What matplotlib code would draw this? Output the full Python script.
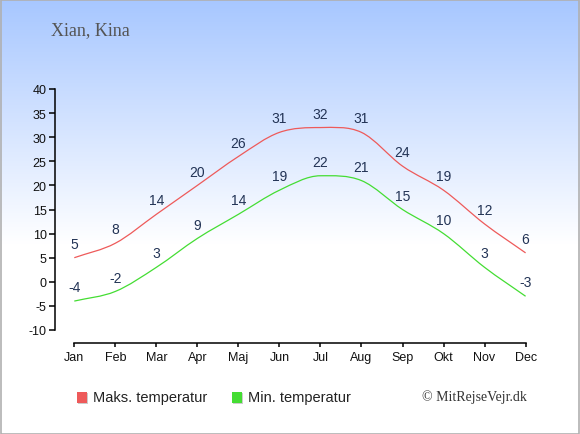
import numpy as np
import matplotlib.pyplot as plt
from matplotlib.path import Path
from matplotlib.patches import PathPatch, Rectangle

plt.rcParams['axes.unicode_minus'] = False

months = ['Jan', 'Feb', 'Mar', 'Apr', 'Maj', 'Jun', 'Jul', 'Aug', 'Sep', 'Okt', 'Nov', 'Dec']
max_temp = [5, 8, 14, 20, 26, 31, 32, 31, 24, 19, 12, 6]
min_temp = [-4, -2, 3, 9, 14, 19, 22, 21, 15, 10, 3, -3]

W, H = 580, 435
RED = '#ee5a5a'
GREEN = '#44dd33'
LABEL = '#223355'


def smooth_path(xs, ys):
    # monotone cubic (Fritsch-Carlson) as bezier segments
    xs = np.asarray(xs, float)
    ys = np.asarray(ys, float)
    d = np.diff(ys) / np.diff(xs)
    m = np.zeros_like(ys)
    m[0], m[-1] = d[0], d[-1]
    for i in range(1, len(ys) - 1):
        m[i] = 0 if d[i - 1] * d[i] <= 0 else (d[i - 1] + d[i]) / 2
    verts = [(xs[0], ys[0])]
    codes = [Path.MOVETO]
    for i in range(len(xs) - 1):
        h = xs[i + 1] - xs[i]
        verts += [(xs[i] + h / 3, ys[i] + m[i] * h / 3),
                  (xs[i + 1] - h / 3, ys[i + 1] - m[i + 1] * h / 3),
                  (xs[i + 1], ys[i + 1])]
        codes += [Path.CURVE4] * 3
    return Path(verts, codes)


fig = plt.figure(figsize=(W / 100, H / 100), dpi=100)

# background: light blue fading to white
bg = fig.add_axes([0, 0, 1, 1], zorder=-10)
rows = np.linspace(0, 1, H)[:, None]
t = np.clip(rows * H / 245, 0, 1)
top = np.array([0.655, 0.78, 1.0])
grad = top + (1 - top) * t[..., None]
grad = np.repeat(grad, 2, axis=1)
bg.imshow(grad, aspect='auto', extent=[0, 1, 0, 1], origin='upper')
bg.axis('off')

ax = fig.add_axes([55 / W, (H - 331) / H, 487 / W, 241 / H])
ax.patch.set_alpha(0)
x = np.arange(len(months))

for vals, col in [(max_temp, RED), (min_temp, GREEN)]:
    ax.add_patch(PathPatch(smooth_path(x, vals), fill=False, edgecolor=col, lw=0.9))
    for xi, v in zip(x, vals):
        ax.annotate(str(v), (xi, v), xytext=(0, 10), textcoords='offset points',
                    ha='center', va='center', fontsize=10, color=LABEL,
                    family='Liberation Sans', annotation_clip=False)

ax.set_xlim(-0.47, 11.4)
ax.set_ylim(-10, 40)
ax.set_xticks(x)
ax.set_xticklabels(months)
ax.set_yticks(range(-10, 41, 5))
ax.spines['top'].set_visible(False)
ax.spines['right'].set_visible(False)
ax.spines['left'].set_bounds(-10, 40)
ax.spines['bottom'].set_bounds(0, 11)
ax.spines['bottom'].set_position(('outward', 9))
for s in ('left', 'bottom'):
    ax.spines[s].set_linewidth(1.1)
ax.tick_params(axis='y', direction='out', length=4, width=1.1, pad=2, labelsize=9)
ax.tick_params(axis='x', direction='out', length=3, width=1.1, pad=3, labelsize=9)
for lab in ax.get_xticklabels() + ax.get_yticklabels():
    lab.set_family('Liberation Sans')
    lab.set_color('#111111')

fig.text(51 / W, 1 - 31 / H, 'Xian, Kina', family='Liberation Serif', fontsize=13,
         color='#555555', va='center', ha='left')

# legend
for x0, col, txt in [(77, RED, 'Maks. temperatur'), (232, GREEN, 'Min. temperatur')]:
    fig.add_artist(Rectangle(((x0 + 1) / W, 1 - 405 / H), 10 / W, 11 / H,
                             transform=fig.transFigure, color='#cccccc', lw=0))
    fig.add_artist(Rectangle((x0 / W, 1 - 404 / H), 10 / W, 11 / H,
                             transform=fig.transFigure, color=col, lw=0))
    fig.text((x0 + 16) / W, 1 - 398 / H, txt, family='Liberation Sans', fontsize=10.5,
             color='#222222', va='center', ha='left')
fig.text(527 / W, 1 - 397 / H, '© MitRejseVejr.dk', family='Liberation Serif',
         fontsize=10, color='#333333', va='center', ha='right')

fig.add_artist(Rectangle((0.5 / W, 0.5 / H), 1 - 1.5 / W, 1 - 1.5 / H,
                         transform=fig.transFigure, fill=False, edgecolor='#b0b0b0', lw=1.2))

fig.savefig('out.png', dpi=100)
